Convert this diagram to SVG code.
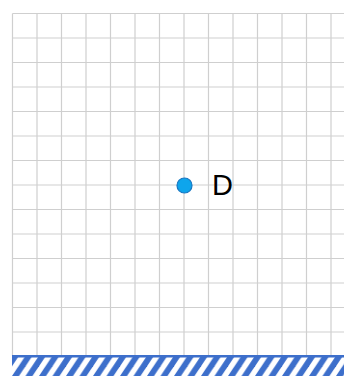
<svg xmlns="http://www.w3.org/2000/svg" width="344" height="376" viewBox="0 0 344 376">
<defs>
<style>
.grid line{stroke:#cfcfcf;stroke-width:1.2}
.lbl{font-family:"Liberation Sans",Arial,sans-serif;font-size:29px;fill:#000}
</style>
<pattern id="hatch" patternUnits="userSpaceOnUse" width="13.5" height="21" x="12" y="355">
<rect width="13.5" height="21" fill="#fff"/>
<polygon points="0,21 7,21 21,0 14,0" fill="#3d6fcb"/>
<polygon points="-13.5,21 -6.5,21 7.5,0 0.5,0" fill="#3d6fcb"/>
</pattern>
</defs>
<rect width="344" height="376" fill="#fff"/>
<g class="grid" id="grid">
<line x1="12.5" y1="13.5" x2="12.5" y2="356"/>
<line x1="37" y1="13.5" x2="37" y2="356"/>
<line x1="61.5" y1="13.5" x2="61.5" y2="356"/>
<line x1="86" y1="13.5" x2="86" y2="356"/>
<line x1="110.5" y1="13.5" x2="110.5" y2="356"/>
<line x1="135" y1="13.5" x2="135" y2="356"/>
<line x1="159.5" y1="13.5" x2="159.5" y2="356"/>
<line x1="184" y1="13.5" x2="184" y2="356"/>
<line x1="208.5" y1="13.5" x2="208.5" y2="356"/>
<line x1="233" y1="13.5" x2="233" y2="356"/>
<line x1="257.5" y1="13.5" x2="257.5" y2="356"/>
<line x1="282" y1="13.5" x2="282" y2="356"/>
<line x1="306.5" y1="13.5" x2="306.5" y2="356"/>
<line x1="331" y1="13.5" x2="331" y2="356"/>
<line x1="12.5" y1="13.5" x2="344" y2="13.5"/>
<line x1="12.5" y1="38" x2="344" y2="38"/>
<line x1="12.5" y1="62.5" x2="344" y2="62.5"/>
<line x1="12.5" y1="87" x2="344" y2="87"/>
<line x1="12.5" y1="111.5" x2="344" y2="111.5"/>
<line x1="12.5" y1="136" x2="344" y2="136"/>
<line x1="12.5" y1="160.5" x2="344" y2="160.5"/>
<line x1="12.5" y1="185" x2="344" y2="185"/>
<line x1="12.5" y1="209.5" x2="344" y2="209.5"/>
<line x1="12.5" y1="234" x2="344" y2="234"/>
<line x1="12.5" y1="258.5" x2="344" y2="258.5"/>
<line x1="12.5" y1="283" x2="344" y2="283"/>
<line x1="12.5" y1="307.5" x2="344" y2="307.5"/>
<line x1="12.5" y1="332" x2="344" y2="332"/>
</g>
<g id="ground">
<rect x="12" y="355" width="332" height="21" fill="url(#hatch)"/>
<rect x="12" y="355" width="332" height="2.5" fill="#3d6fcb"/>
</g>
<g id="connectors"></g>
<g id="nodeD">
<circle cx="184.5" cy="185.5" r="7.5" fill="#0ea5ec" stroke="#1877c2" stroke-width="1.2"/>
<text class="lbl" x="212" y="194.5">D</text>
</g>
</svg>
